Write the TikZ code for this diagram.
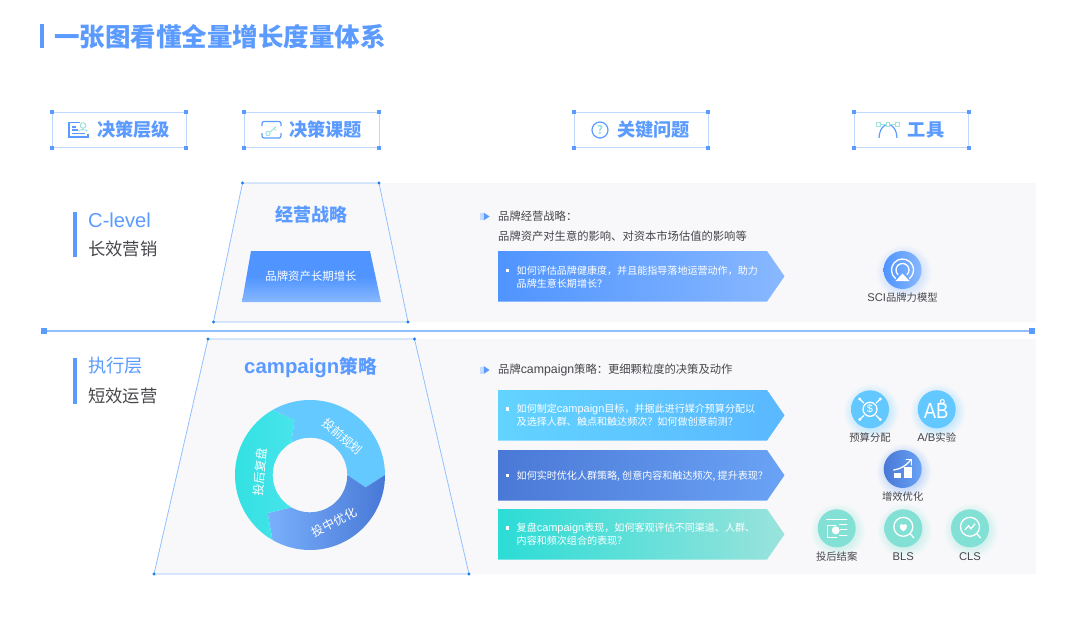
\documentclass[tikz,border=0pt]{standalone}
\usepackage{fontspec}
\setmainfont{Noto Sans CJK SC}
\newfontfamily\latfont[Scale=1.09]{Liberation Sans}
\newcommand{\lat}[1]{{\latfont #1}}
\newcommand{\px}[1]{\fontsize{#1}{#1}\selectfont}
\usetikzlibrary{positioning,arrows.meta,calc}
\definecolor{mainblue}{RGB}{91,155,255}
\definecolor{hdrline}{RGB}{190,216,255}
\definecolor{trapline}{RGB}{145,192,255}
\definecolor{dotblue}{RGB}{26,125,240}
\definecolor{panel}{RGB}{248,248,250}
\definecolor{txtdark}{RGB}{70,70,75}
\definecolor{keyteal}{RGB}{160,225,220}
\definecolor{arrA1}{RGB}{79,148,255}
\definecolor{arrA2}{RGB}{136,184,255}
\definecolor{sky1}{RGB}{98,211,255}
\definecolor{sky2}{RGB}{90,184,255}
\definecolor{deep1}{RGB}{74,120,214}
\definecolor{deep2}{RGB}{106,163,245}
\definecolor{teal1}{RGB}{44,220,214}
\definecolor{teal2}{RGB}{154,227,220}
\definecolor{ringsky}{RGB}{100,201,255}
\definecolor{ringdeep}{RGB}{122,176,252}
\definecolor{ringdark}{RGB}{72,120,214}
\definecolor{ringteal}{RGB}{47,224,224}
\definecolor{ringteal2}{RGB}{72,228,236}
\definecolor{icnteal}{RGB}{130,224,212}
\definecolor{icnsky}{RGB}{98,200,255}
\tikzset{
  hdrbox/.style={draw=hdrline,line width=0.9pt,inner sep=0pt},
  hdrtxt/.style={font=\px{18.2}\bfseries,text=mainblue,inner sep=0pt},
  handle/.style={fill=mainblue,inner sep=0pt,minimum size=4pt},
  trapdot/.style={fill=dotblue,circle,inner sep=0pt,minimum size=3.4pt},
  qtxt/.style={anchor=west,font=\fontsize{10.05}{12.9}\selectfont,text=white,align=left,inner sep=0pt},
  stxt/.style={anchor=west,font=\px{11.3},text=txtdark,inner sep=0pt},
  lvl/.style={anchor=west,inner sep=0pt},
  ringtxt/.style={font=\px{12},text=white,inner sep=0pt},
  icnlbl/.style={font=\px{10.3},text=txtdark,inner sep=0pt},
  icnc/.style={circle,inner sep=0pt,minimum size=38pt},
  glyph/.style={white,line width=1.3pt,line cap=round},
}
\begin{document}
\begin{tikzpicture}[x=1pt,y=-1pt]
\useasboundingbox (0,0) rectangle (1080,626);
% title
\fill[mainblue] (39.5,24) rectangle (43.5,48);
\node[anchor=west,inner sep=0pt,font=\px{25.5}\bfseries,text=mainblue] (title) at (54,37) {一张图看懂全量增长度量体系};
% header boxes
\foreach \n/\xa/\xb/\tx/\t in {
lv/52/186/133.5/决策层级,ke/244/379/325.5/决策课题,qu/574/708/653.5/关键问题,to/854.5/968.5/926/工具}{
\node[hdrbox,minimum width={(\xb-\xa)*1pt},minimum height=35.5pt] (box\n) at ({(\xa+\xb)/2},130) {};
\foreach \c in {north west,north east,south west,south east}
\node[handle] at (box\n.\c) {};
\node[hdrtxt] (hdr\n) at (\tx,130) {\t};
}
% header icons
\draw[mainblue,line width=1.1pt] (80,122.5) -- (69,122.5) -- (69,137) -- (88,137) -- (88,134);
\draw[mainblue,line width=1.1pt] (71.5,127) -- (76,127) (71.5,130) -- (78,130) (71.5,133.5) -- (85,133.5);
\draw[keyteal,line width=1pt] (83,125.5) circle (2.8) (78.5,131.5) .. controls (79,129) and (87,129) .. (87.5,131.5);
\draw[mainblue,line width=1.2pt,rounded corners=2pt] (262,126) -- (262,121.5) -- (281,121.5) -- (281,126) (281,133) -- (281,138) -- (262,138) -- (262,133);
\draw[keyteal,line width=1pt] (268,133.5) circle (2.2) (270,132) -- (276,126.5) (274,128.5) -- (276,130.5);
\draw[mainblue,line width=1.2pt] (600,130) circle (8);
\node[inner sep=0pt,font=\px{12}\bfseries,text=keyteal] (qmark) at (600,130) {?};
\draw[mainblue,line width=1.2pt] (879,138) .. controls (880,120) and (896,120) .. (897,138);
\draw[keyteal,line width=0.8pt] (877.5,124.5) -- (899.5,124.5);
\foreach \q in {878.5,888,897.5}
\draw[keyteal,fill=white,line width=0.8pt] (\q-1.8,122.7) rectangle (\q+1.8,126.3);
% panels
\fill[panel] (379,183) -- (1036,183) -- (1036,322) -- (408,322) -- cycle;
\fill[panel] (414.5,339) -- (1036,339) -- (1036,574) -- (469,574) -- cycle;
\filldraw[fill=panel,draw=trapline,line width=0.8pt] (242.5,183) coordinate (ta) -- (379,183) coordinate (tb) -- (408,322) coordinate (tc) -- (213.5,322) coordinate (td) -- cycle;
\filldraw[fill=panel,draw=trapline,line width=0.8pt] (208,339) coordinate (ua) -- (414.5,339) coordinate (ub) -- (469,574) coordinate (uc) -- (154,574) coordinate (ud) -- cycle;
\foreach \c in {ta,tb,tc,td,ua,ub,uc,ud}
\node[trapdot] at (\c) {};
% divider
\node[handle,minimum size=6pt] (divl) at (44,331) {};
\node[handle,minimum size=6pt] (divr) at (1032,331) {};
\draw[trapline,line width=1.2pt] (divl) -- (divr);
% levels
\fill[mainblue] (73,212) rectangle (77,257);
\fill[mainblue] (73,358) rectangle (77,404);
\node[lvl,font=\px{18.5},text=mainblue] (clevel) at (88,220) {\lat{C-level}};
\node[lvl,font=\px{17.3},text=txtdark] (clong) at (88,249) {长效营销};
\node[lvl,font=\px{18.3},text=mainblue] (exec) at (88,366) {执行层};
\node[lvl,font=\px{17.3},text=txtdark] (eshort) at (88,396) {短效运营};
% top trapezoid
\node[inner sep=0pt,font=\px{18}\bfseries,text=mainblue] (stratA) at (311,215) {经营战略};
\shade[top color=arrA1,bottom color=arrA2,middle color=arrA1] (251,251) -- (370,251) -- (381,302) -- (242,302) -- cycle;
\node[inner sep=0pt,font=\px{11.4},text=white] (brandA) at (311,276) {品牌资产长期增长};
% lower trapezoid
\node[inner sep=0pt,font=\px{18.7}\bfseries,text=mainblue] (stratB) at (310.5,368) {{\latfont\bfseries campaign}策略};
% ring: start/end/tip/previous tip
\begin{scope}[shift={(310,475)},y=1pt]
\foreach \a/\b/\tip/\p/\ca/\cb in {
120/0/-12.6/105.8/ringsky/ringsky,
0/-120/-138/-12.6/ringdeep/ringdark,
-120/-240/-254.2/-138/ringteal/ringteal2}{
\shade[left color=\ca,right color=\cb] (\a:75) arc[start angle=\a,end angle=\b,radius=75] -- (\tip:57) -- (\b:37.3) arc[start angle=\b,end angle=\a,radius=37.3] -- (\p:57) -- cycle;
}
\end{scope}
\node[ringtxt,rotate=-40] (ringA) at (342.7,436.7) {投前规划};
\node[ringtxt,rotate=27] (ringB) at (334.3,522.3) {投中优化};
\node[ringtxt,rotate=84] (ringC) at (260,471.7) {投后复盘};
% section heads
\foreach \yy in {216.5,370}{
\fill[mainblue!35] (480,\yy-3.5) rectangle (483,\yy+3.5);
\fill[mainblue] (483.5,\yy-4) -- (489.5,\yy) -- (483.5,\yy+4) -- cycle;
}
\node[stxt] (headA) at (498,216.5) {品牌经营战略：};
\node[stxt] (headB) at (498,236) {品牌资产对生意的影响、对资本市场估值的影响等};
\node[stxt] (headC) at (498,370) {品牌\lat{campaign}策略：更细颗粒度的决策及动作};
% question arrows
\foreach \ay/\by/\ca/\cb in {251/270.3/arrA1/arrA2,390/409/sky1/sky2,450/475.7/deep1/deep2,509/528/teal1/teal2}{
\shade[left color=\ca,right color=\cb] (498,\ay) -- (767,\ay) -- (784.5,\ay+25.3) -- (767,\ay+50.6) -- (498,\ay+50.6) -- cycle;
\fill[white] (505.6,\by-1.7) rectangle (509,\by+1.7);
}
\node[qtxt] (qA) at (516.5,276.8) {如何评估品牌健康度，并且能指导落地运营动作，助力\\品牌生意长期增长？};
\node[qtxt] (qB) at (516.5,415.3) {如何制定\lat{campaign}目标，并据此进行媒介预算分配以\\及选择人群、触点和触达频次？如何做创意前测？};
\node[qtxt] (qC) at (516.5,475.7) {如何实时优化人群策略, 创意内容和触达频次, 提升表现？};
\node[qtxt] (qD) at (516.5,534.4) {复盘\lat{campaign}表现，如何客观评估不同渠道、人群、\\内容和频次组合的表现？};
% tool icons
\foreach \n/\cx/\cy/\ca/\cb/\t in {
sci/902.5/270/arrA1/arrA2/{\lat{SCI}品牌力模型},
bud/870/409.3/icnsky/icnsky/预算分配,
abt/936.7/409.3/icnsky/icnsky/{\lat{A/B}实验},
eff/902.7/469/ringdark/deep2/增效优化,
clo/836.7/528.3/icnteal/icnteal/投后结案,
bls/903.3/528.3/icnteal/icnteal/{\lat{BLS}},
cls/970/528.3/icnteal/icnteal/{\lat{CLS}}}{
\shade[inner color=\cb!85!panel,outer color=panel] (\cx+1,\cy+2) circle (28);
\node[icnc,left color=\ca,right color=\cb] (icn\n) at (\cx,\cy) {};
\node[icnlbl] (lbl\n) at (\cx,\cy+28) {\t};
}
% glyphs
\begin{scope}[shift={(902.5,270)},y=1pt,glyph]
\draw (230:11) arc[start angle=230,end angle=-50,radius=11];
\draw (225:6.5) arc[start angle=225,end angle=-45,radius=6.5];
\fill (-7,-11) -- (7,-11) -- (0,-3.5) -- cycle;
\end{scope}
\begin{scope}[shift={(870,409.3)},y=1pt,glyph]
\draw (0,0) circle (7);
\foreach \g in {45,135,225,315}{
\draw (\g:9) -- (\g:14.5);
\fill (\g:14.5) circle (1.6);
}
\end{scope}
\node[inner sep=0pt,font=\px{10},text=white] (coin) at (870,409.3) {\lat{\$}};
\node[inner sep=0pt,font=\px{20},text=white,xscale=0.85,transform shape] (abmark) at (936.2,410.5) {\lat{AB}};
\draw[white,line width=1pt] (942.3,401.5) circle (2);
\begin{scope}[shift={(902.7,469)},y=1pt,glyph]
\fill (-9,-9) rectangle (-1.5,-3.5);
\fill (1.5,-9) rectangle (9,2);
\draw (-9,-1) .. controls (-2,0) and (3,3) .. (8,9);
\draw (3.5,9.5) -- (9,9.5) -- (9,4);
\end{scope}
\begin{scope}[shift={(836.7,528.3)},y=1pt,glyph]
\draw (-10,9) -- (10,9) (3,4) -- (10,4) (4,-1) -- (10,-1) (3,-7) -- (10,-7);
\draw (-1,2.5) -- (-9,2.5) -- (-9,-9) -- (0,-9);
\fill (-1,-2) circle (4);
\end{scope}
\foreach \cx in {903.3,970}{
\begin{scope}[shift={(\cx,528.3)},y=1pt,glyph]
\draw (0,1.5) circle (9.5);
\draw (7,-5.5) -- (10.5,-9.5);
\end{scope}
}
\begin{scope}[shift={(903.3,528.3)},y=1pt,glyph]
\fill (0,-3) .. controls (-6.5,1) and (-3,6) .. (0,3.5) .. controls (3,6) and (6.5,1) .. (0,-3);
\end{scope}
\begin{scope}[shift={(970,528.3)},y=1pt,glyph]
\draw (-5,-1.5) -- (-1.5,2.5) -- (1,-0.5) -- (5,4.5);
\end{scope}
\end{tikzpicture}
\end{document}
